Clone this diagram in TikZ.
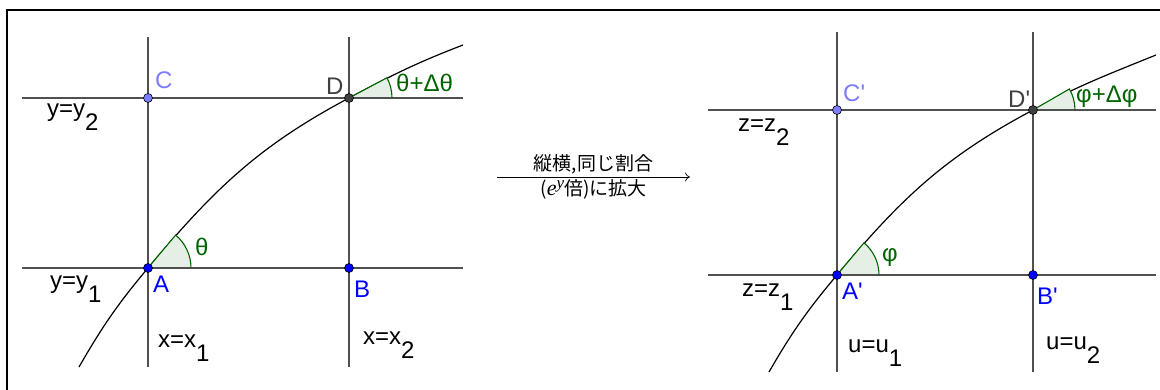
\documentclass[tikz,border=0pt]{standalone}
\usepackage{fontspec}
\setmainfont{Liberation Sans}
\newfontfamily\cjk{Noto Sans CJK JP}
\newfontfamily\serifit{Liberation Serif}
\usetikzlibrary{arrows.meta,positioning,calc}

\definecolor{ggblue}{RGB}{0,0,255}
\definecolor{gglight}{RGB}{125,125,255}
\definecolor{ggdark}{RGB}{64,64,64}
\definecolor{gggreen}{RGB}{0,100,0}
\definecolor{ggline}{RGB}{80,80,80}

\newcommand{\lowidx}[1]{\raisebox{-14pt}{#1}}
\newcommand{\pr}{\textquotesingle}

\tikzset{
  gridline/.style={draw=ggline,line width=1.4pt},
  curveline/.style={draw=black,line width=1.2pt},
  pt/.style={circle,draw=black,line width=0.6pt,inner sep=0pt,minimum size=9pt},
  lbl/.style={anchor=base west,inner sep=0pt,font=\fontsize{24}{28}\selectfont},
  anglefill/.style={fill=gggreen!10},
  anglearc/.style={draw=gggreen,line width=1.1pt},
  jptext/.style={anchor=base,inner sep=0pt,font=\fontsize{19}{21}\selectfont\cjk}
}

\begin{document}
\begin{tikzpicture}[x=1pt,y=1pt]
  \useasboundingbox (0,0) rectangle (1160,390);

  % frame (only top and left edges are shown)
  \coordinate (frBL) at (7,0);
  \coordinate (frTL) at (7,380);
  \coordinate (frTR) at (1160,380);
  \draw[line width=2pt] (frBL) -- (frTL) -- (frTR);

  %%%%% left panel
  \coordinate (A) at (148,122);
  \coordinate (B) at (349,122);
  \coordinate (C) at (148,292);
  \coordinate (D) at (349,292);

  \foreach \x/\n in {148/1,349/2}{
    \coordinate (vb\n) at (\x,23);
    \coordinate (vt\n) at (\x,353);
    \draw[gridline] (vb\n) -- (vt\n);
  }
  \foreach \y/\n in {122/1,292/2}{
    \coordinate (hl\n) at (22,\y);
    \coordinate (hr\n) at (463,\y);
    \draw[gridline] (hl\n) -- (hr\n);
  }

  \coordinate (cs) at (79,23);
  \coordinate (ce) at (463,345);
  \draw[curveline] (cs) to[out=60,in=230] (A) to[out=50,in=208] (D)
    to[out=28,in=201] (ce);

  % angles at A and D
  \fill[anglefill] (A) -- ++(0:43) arc[start angle=0,end angle=50,radius=43] -- cycle;
  \draw[anglearc] (A) ++(0:43) arc[start angle=0,end angle=50,radius=43] -- (A);
  \fill[anglefill] (D) -- ++(0:43) arc[start angle=0,end angle=28,radius=43] -- cycle;
  \draw[anglearc] (D) ++(0:43) arc[start angle=0,end angle=28,radius=43] -- (D);
  \draw[gridline] (A) -- ++(43,0);
  \draw[gridline] (D) -- ++(43,0);

  \node[pt,fill=ggblue] (pA) at (A) {};
  \node[pt,fill=ggblue] (pB) at (B) {};
  \node[pt,fill=gglight] (pC) at (C) {};
  \node[pt,fill=ggdark] (pD) at (D) {};

  \node[lbl,text=ggblue] (lA) at (153,97) {A};
  \node[lbl,text=ggblue] (lB) at (354,92) {B};
  \node[lbl,text=gglight] (lC) at (155,301) {C};
  \node[lbl,text=ggdark] (lD) at (326,295) {D};
  \node[lbl,text=gggreen] (lth) at (195,134) {θ};
  \node[lbl,text=gggreen] (lthd) at (396,298) {θ+Δθ};
  \node[lbl] (ly2) at (47,273) {y=y\lowidx{2}};
  \node[lbl] (ly1) at (50,101) {y=y\lowidx{1}};
  \node[lbl] (lx1) at (158,42) {x=x\lowidx{1}};
  \node[lbl] (lx2) at (363,45) {x=x\lowidx{2}};

  %%%%% middle arrow
  \coordinate (arrL) at (497,213);
  \coordinate (arrR) at (690,213);
  \draw[-{To[length=5pt,width=9pt]},line width=0.7pt] (arrL) -- (arrR);
  \node[jptext] (tUp) at (593.5,219) {縦横,同じ割合};
  \node[jptext] (tDn) at (593.5,194)
    {({\serifit\itshape\fontsize{22}{24}\selectfont e\raisebox{7pt}{\fontsize{17}{19}\selectfont y}}倍)に拡大};

  %%%%% right panel
  \coordinate (Ap) at (837,115);
  \coordinate (Bp) at (1033,115);
  \coordinate (Cp) at (837,280);
  \coordinate (Dp) at (1033,280);

  \foreach \x/\n in {837/1,1033/2}{
    \coordinate (vbp\n) at (\x,18);
    \coordinate (vtp\n) at (\x,358);
    \draw[gridline] (vbp\n) -- (vtp\n);
  }
  \foreach \y/\n in {115/1,280/2}{
    \coordinate (hlp\n) at (708,\y);
    \coordinate (hrp\n) at (1156,\y);
    \draw[gridline] (hlp\n) -- (hrp\n);
  }

  \coordinate (csp) at (769,18);
  \coordinate (cep) at (1156,335);
  \draw[curveline] (csp) to[out=60,in=230] (Ap) to[out=50,in=208] (Dp)
    to[out=28,in=202] (cep);

  % angles at A' and D'
  \fill[anglefill] (Ap) -- ++(0:42) arc[start angle=0,end angle=50,radius=42] -- cycle;
  \draw[anglearc] (Ap) ++(0:42) arc[start angle=0,end angle=50,radius=42] -- (Ap);
  \fill[anglefill] (Dp) -- ++(0:42) arc[start angle=0,end angle=30,radius=42] -- cycle;
  \draw[anglearc] (Dp) ++(0:42) arc[start angle=0,end angle=30,radius=42] -- (Dp);
  \draw[gridline] (Ap) -- ++(42,0);
  \draw[gridline] (Dp) -- ++(42,0);

  \node[pt,fill=ggblue] (pAp) at (Ap) {};
  \node[pt,fill=ggblue] (pBp) at (Bp) {};
  \node[pt,fill=gglight] (pCp) at (Cp) {};
  \node[pt,fill=ggdark] (pDp) at (Dp) {};

  \node[lbl,text=ggblue] (lAp) at (842,90) {A\pr};
  \node[lbl,text=ggblue] (lBp) at (1037,85) {B\pr};
  \node[lbl,text=gglight] (lCp) at (843,288) {C\pr};
  \node[lbl,text=ggdark] (lDp) at (1008,282) {D\pr};
  \node[lbl,text=gggreen] (lph) at (882,128) {φ};
  \node[lbl,text=gggreen] (lphd) at (1076,287) {φ+Δφ};
  \node[lbl] (lz2) at (738,258) {z=z\lowidx{2}};
  \node[lbl] (lz1) at (742,93) {z=z\lowidx{1}};
  \node[lbl] (lu1) at (848,37) {u=u\lowidx{1}};
  \node[lbl] (lu2) at (1046,40) {u=u\lowidx{2}};
\end{tikzpicture}
\end{document}
